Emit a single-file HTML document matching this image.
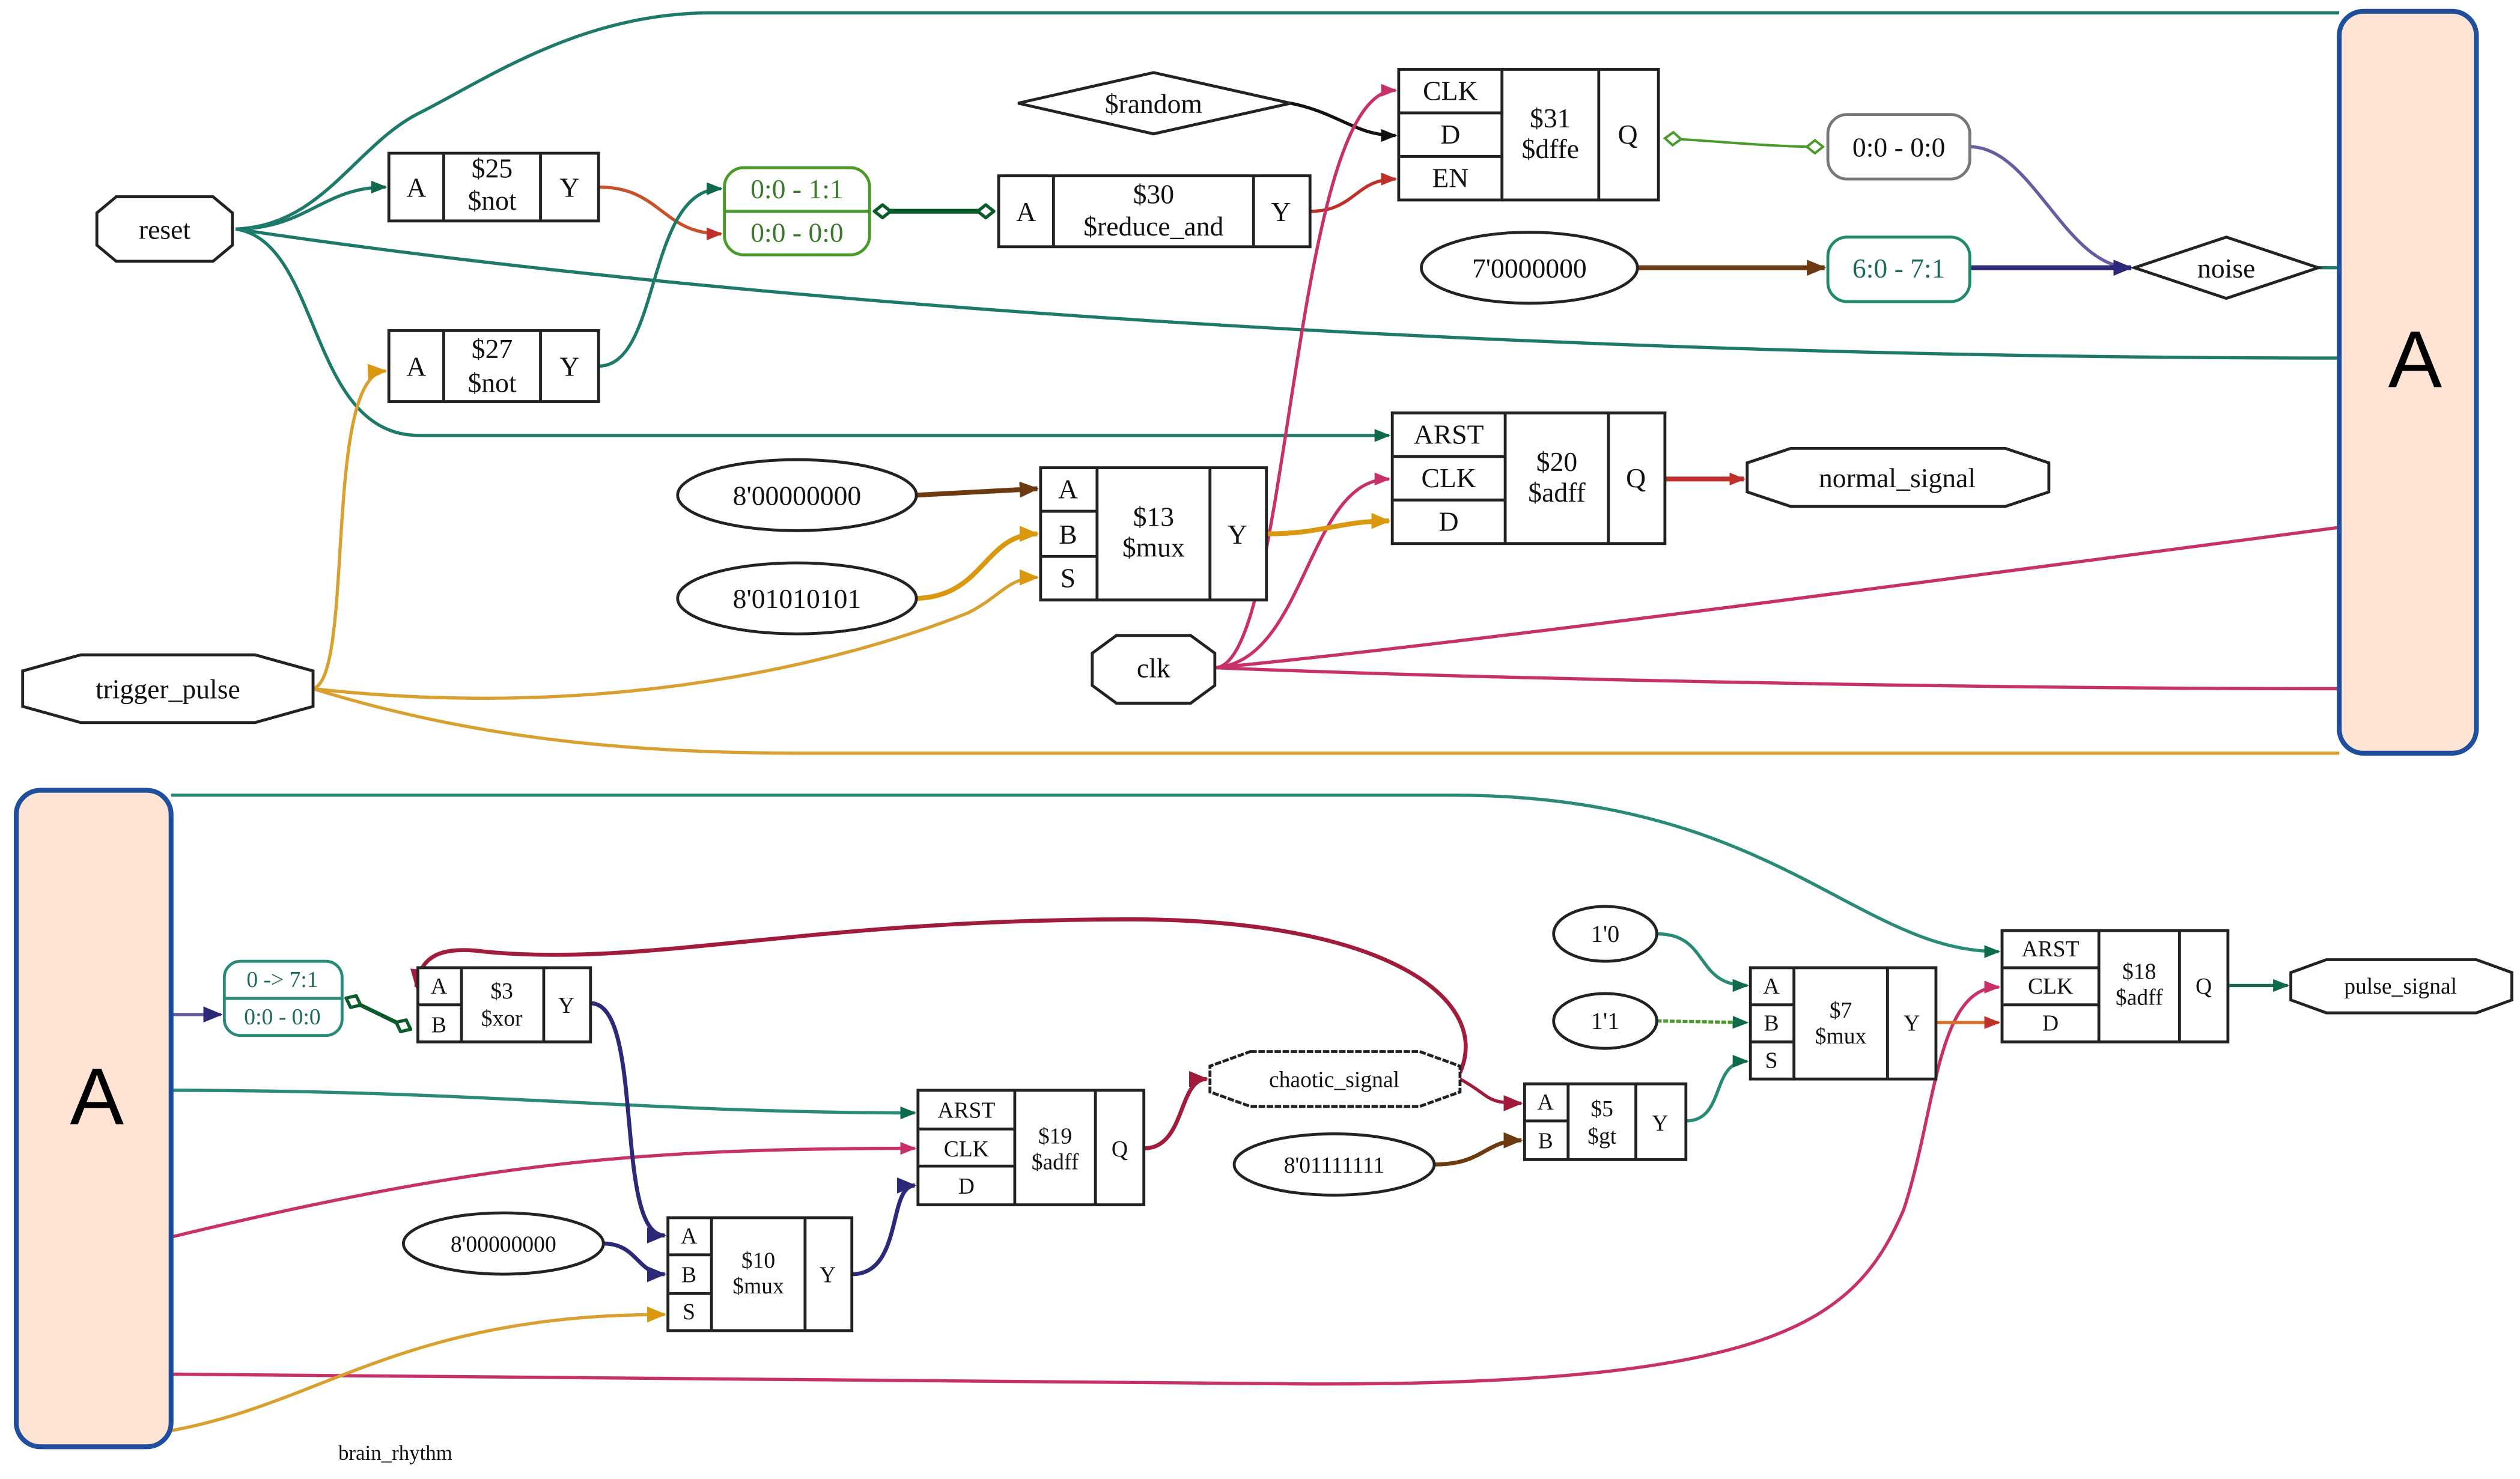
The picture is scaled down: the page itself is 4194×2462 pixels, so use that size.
<!DOCTYPE html>
<html><head><meta charset="utf-8"><style>
html,body{margin:0;padding:0;background:#fff}
svg{display:block}
svg text{font-family:"Liberation Serif","DejaVu Serif",serif}
</style></head><body>
<svg width="4194" height="2462" viewBox="0 0 1562 917" xmlns="http://www.w3.org/2000/svg" style="font-family:'Liberation Serif',serif">
<defs>
<marker id="teal" markerWidth="10" markerHeight="8" refX="9" refY="4" orient="auto" markerUnits="userSpaceOnUse"><path d="M0,0L10,4L0,8z" fill="#0e6a4a"/></marker>
<marker id="red" markerWidth="10" markerHeight="8" refX="9" refY="4" orient="auto" markerUnits="userSpaceOnUse"><path d="M0,0L10,4L0,8z" fill="#c0302a"/></marker>
<marker id="orange" markerWidth="12" markerHeight="10" refX="11" refY="5" orient="auto" markerUnits="userSpaceOnUse"><path d="M0,0L12,5L0,10z" fill="#d9980e"/></marker>
<marker id="brown" markerWidth="12" markerHeight="10" refX="11" refY="5" orient="auto" markerUnits="userSpaceOnUse"><path d="M0,0L12,5L0,10z" fill="#6b3a10"/></marker>
<marker id="navy" markerWidth="12" markerHeight="10" refX="11" refY="5" orient="auto" markerUnits="userSpaceOnUse"><path d="M0,0L12,5L0,10z" fill="#2c2a78"/></marker>
<marker id="pink" markerWidth="10" markerHeight="8" refX="9" refY="4" orient="auto" markerUnits="userSpaceOnUse"><path d="M0,0L10,4L0,8z" fill="#c8306a"/></marker>
<marker id="dred" markerWidth="12" markerHeight="10" refX="11" refY="5" orient="auto" markerUnits="userSpaceOnUse"><path d="M0,0L12,5L0,10z" fill="#a01c3a"/></marker>
<marker id="blk" markerWidth="10" markerHeight="8" refX="9" refY="4" orient="auto" markerUnits="userSpaceOnUse"><path d="M0,0L10,4L0,8z" fill="#111"/></marker>
<marker id="dia" markerWidth="12" markerHeight="10" refX="6" refY="5" orient="auto" markerUnits="userSpaceOnUse"><path d="M1,5L6,1L11,5L6,9z" fill="#fff" stroke="#0a5a2a" stroke-width="2"/></marker>
<marker id="dial" markerWidth="12" markerHeight="10" refX="6" refY="5" orient="auto" markerUnits="userSpaceOnUse"><path d="M1,5L6,1L11,5L6,9z" fill="#fff" stroke="#4a9a2a" stroke-width="1.5"/></marker>
</defs>

<g fill="none" stroke-width="2">
<path d="M146,142 C200,140 220,90 260,70 C300,50 360,8 440,8 L1450,8" stroke="#1d7a6a"/>
<path d="M146,142 C190,142 200,116 239,116" stroke="#1d7a6a" marker-end="url(#teal)"/>
<path d="M146,142 C500,195 1000,222 1450,222" stroke="#1d7a6a"/>
<path d="M146,142 C200,150 190,270 260,270 L861,270" stroke="#1d7a6a" marker-end="url(#teal)"/>
<path d="M371,116 C410,116 410,145 447,145" stroke="#c8502a" marker-end="url(#red)"/>
<path d="M371,227 C410,227 400,117 447,117" stroke="#1d7a6a" marker-end="url(#teal)"/>
<path d="M547,131 L611,131" stroke="#0a5a2a" stroke-width="3" marker-start="url(#dia)" marker-end="url(#dia)"/>
<path d="M812,131 C840,131 840,111 865,111" stroke="#c0302a" marker-end="url(#red)"/>
<path d="M800,64 C830,70 840,84 865,84" stroke="#111" marker-end="url(#blk)"/>
<path d="M753,414 C800,414 800,56 865,56" stroke="#c8306a" marker-end="url(#pink)"/>
<path d="M753,414 C810,410 810,297 861,297" stroke="#c8306a" marker-end="url(#pink)"/>
<path d="M753,414 C900,400 1200,360 1450,327" stroke="#c8306a"/>
<path d="M753,414 C900,420 1200,427 1450,427" stroke="#c8306a"/>
<path d="M785,331 C820,331 830,323 861,323" stroke="#d9980e" stroke-width="3" marker-end="url(#orange)"/>
<path d="M1037,86 C1070,88 1100,91 1125,91" stroke="#4a9a2a" stroke-width="1.5" marker-start="url(#dial)" marker-end="url(#dial)"/>
<path d="M1221,91 C1260,91 1280,166 1321,166" stroke="#6a5aa0" marker-end="url(#navy)"/>
<path d="M1015,166 L1131,166" stroke="#6b3a10" stroke-width="3" marker-end="url(#brown)"/>
<path d="M1221,166 L1321,166" stroke="#2c2a78" stroke-width="3" marker-end="url(#navy)"/>
<path d="M1437,166 L1450,166" stroke="#1d7a6a"/>
<path d="M1032,297 L1081,297" stroke="#c0302a" stroke-width="3" marker-end="url(#red)"/>
<path d="M568,307 L643,303" stroke="#6b3a10" stroke-width="3" marker-end="url(#brown)"/>
<path d="M568,371 C610,370 610,331 643,331" stroke="#d9980e" stroke-width="3" marker-end="url(#orange)"/>
<path d="M194,427 C400,450 550,400 600,380 C620,370 625,358 643,358" stroke="#d9a030" marker-end="url(#orange)"/>
<path d="M194,427 C220,420 200,232 239,230" stroke="#d9a030" marker-end="url(#orange)"/>
<path d="M194,427 C300,460 400,467 500,467 L1450,467" stroke="#d9a030"/>

<path d="M106,493 L900,493 C1100,493 1150,590 1239,590" stroke="#2a8a78" marker-end="url(#teal)"/>
<path d="M106,629 L137,629" stroke="#6a5aa0" marker-end="url(#navy)"/>
<path d="M219,621 L250,636" stroke="#0a5a2a" stroke-width="2.5" marker-start="url(#dia)" marker-end="url(#dia)"/>
<path d="M106,676 C300,676 400,690 567,690" stroke="#2a8a78" marker-end="url(#teal)"/>
<path d="M106,767 C300,720 400,712 567,712" stroke="#c8306a" marker-end="url(#pink)"/>
<path d="M106,852 L800,858 C1100,860 1150,820 1180,750 C1200,690 1200,612 1239,612" stroke="#c8306a" marker-end="url(#pink)"/>
<path d="M106,887 C200,870 250,815 412,815" stroke="#d9a030" marker-end="url(#orange)"/>
<path d="M366,622 C400,622 380,766 412,766" stroke="#2c2a78" stroke-width="2.5" marker-end="url(#navy)"/>
<path d="M374,771 C395,771 395,790 412,790" stroke="#2c2a78" stroke-width="2.5" marker-end="url(#navy)"/>
<path d="M528,790 C560,790 550,735 567,735" stroke="#2c2a78" stroke-width="2.5" marker-end="url(#navy)"/>
<path d="M709,712 C735,712 730,669 748,669" stroke="#a01c3a" stroke-width="2.5" marker-end="url(#dred)"/>
<path d="M905,665 C925,620 860,570 700,570 C500,570 400,600 300,590 C270,586 260,595 258,612" stroke="#a01c3a" stroke-width="2.5" marker-end="url(#dred)"/>
<path d="M905,669 C925,680 920,684 943,684" stroke="#a01c3a" stroke-width="2" marker-end="url(#dred)"/>
<path d="M889,722 C920,722 920,707 943,707" stroke="#6b3a10" stroke-width="2.5" marker-end="url(#brown)"/>
<path d="M1045,695 C1070,695 1060,658 1083,658" stroke="#2a8a78" marker-end="url(#teal)"/>
<path d="M1027,579 C1060,579 1050,611 1083,611" stroke="#2a8a78" marker-end="url(#teal)"/>
<path d="M1027,633 L1083,634" stroke="#4a9a2a" stroke-dasharray="3,1" marker-end="url(#teal)"/>
<path d="M1200,634 L1239,634" stroke="#d9702a" marker-end="url(#red)"/>
<path d="M1381,611 L1418,611" stroke="#1d6a4a" marker-end="url(#teal)"/>
</g>

<rect x="1450" y="7" width="85" height="460" rx="15" fill="#fde4d4" stroke="#1f4e9c" stroke-width="3"/>
<text x="1497" y="240" font-size="50" text-anchor="middle" style="font-family:'Liberation Sans',sans-serif">A</text>
<rect x="10" y="490" width="96" height="407" rx="15" fill="#fde4d4" stroke="#1f4e9c" stroke-width="3"/>
<text x="60" y="697" font-size="50" text-anchor="middle" style="font-family:'Liberation Sans',sans-serif">A</text>

<g fill="#fff" stroke="#222" stroke-width="1.8">
<polygon points="72,122 132,122 144,132 144,152 132,162 72,162 60,152 60,132"/>
<polygon points="50,406 158,406 194,416 194,438 158,448 50,448 14,438 14,416"/>
<polygon points="692,394 738,394 753,405 753,425 738,436 692,436 677,425 677,405"/>
<polygon points="1110,278 1243,278 1270,287 1270,305 1243,314 1110,314 1083,305 1083,287"/>
<polygon points="775,652 880,652 905,661 905,677 880,686 775,686 750,677 750,661" stroke-dasharray="4,1"/>
<polygon points="1442,595 1535,595 1557,603 1557,620 1535,628 1442,628 1420,620 1420,603"/>
<polygon points="631,64 715,45 800,64 715,83"/>
<polygon points="1323,166 1380,147 1437,166 1380,185"/>
<ellipse cx="948" cy="166" rx="67" ry="22"/>
<ellipse cx="494" cy="307" rx="74" ry="22"/>
<ellipse cx="494" cy="371" rx="74" ry="22"/>
<ellipse cx="312" cy="771" rx="62" ry="19"/>
<ellipse cx="827" cy="722" rx="62" ry="19"/>
<ellipse cx="995" cy="579" rx="32" ry="17"/>
<ellipse cx="995" cy="633" rx="32" ry="17"/>
<rect x="449" y="104" width="90" height="54" rx="12" stroke="#4a9a2a"/>
<line x1="449" y1="131" x2="539" y2="131" stroke="#4a9a2a"/>
<rect x="1133" y="71" width="88" height="40" rx="12" stroke="#777"/>
<rect x="1133" y="147" width="88" height="40" rx="12" stroke="#1d8a6a"/>
<rect x="139" y="596" width="73" height="46" rx="10" stroke="#2a8a78"/>
<line x1="139" y1="619" x2="212" y2="619" stroke="#2a8a78"/>
<rect x="241" y="95" width="130" height="42"/><line x1="275" y1="95" x2="275" y2="137"/><line x1="335" y1="95" x2="335" y2="137"/>
<rect x="241" y="205" width="130" height="44"/><line x1="275" y1="205" x2="275" y2="249"/><line x1="335" y1="205" x2="335" y2="249"/>
<rect x="619" y="109" width="193" height="44"/><line x1="653" y1="109" x2="653" y2="153"/><line x1="777" y1="109" x2="777" y2="153"/>
<rect x="867" y="43" width="161" height="81"/><line x1="931" y1="43" x2="931" y2="124"/><line x1="991" y1="43" x2="991" y2="124"/><line x1="867" y1="70" x2="931" y2="70"/><line x1="867" y1="97" x2="931" y2="97"/>
<rect x="863" y="256" width="169" height="81"/><line x1="933" y1="256" x2="933" y2="337"/><line x1="997" y1="256" x2="997" y2="337"/><line x1="863" y1="283" x2="933" y2="283"/><line x1="863" y1="310" x2="933" y2="310"/>
<rect x="645" y="290" width="140" height="82"/><line x1="680" y1="290" x2="680" y2="372"/><line x1="750" y1="290" x2="750" y2="372"/><line x1="645" y1="317" x2="680" y2="317"/><line x1="645" y1="345" x2="680" y2="345"/>
<rect x="259" y="600" width="107" height="46"/><line x1="286" y1="600" x2="286" y2="646"/><line x1="337" y1="600" x2="337" y2="646"/><line x1="259" y1="623" x2="286" y2="623"/>
<rect x="569" y="676" width="140" height="71"/><line x1="629" y1="676" x2="629" y2="747"/><line x1="679" y1="676" x2="679" y2="747"/><line x1="569" y1="700" x2="629" y2="700"/><line x1="569" y1="723" x2="629" y2="723"/>
<rect x="414" y="755" width="114" height="70"/><line x1="441" y1="755" x2="441" y2="825"/><line x1="499" y1="755" x2="499" y2="825"/><line x1="414" y1="778" x2="441" y2="778"/><line x1="414" y1="802" x2="441" y2="802"/>
<rect x="945" y="672" width="100" height="47"/><line x1="972" y1="672" x2="972" y2="719"/><line x1="1014" y1="672" x2="1014" y2="719"/><line x1="945" y1="695" x2="972" y2="695"/>
<rect x="1085" y="600" width="115" height="69"/><line x1="1112" y1="600" x2="1112" y2="669"/><line x1="1170" y1="600" x2="1170" y2="669"/><line x1="1085" y1="623" x2="1112" y2="623"/><line x1="1085" y1="646" x2="1112" y2="646"/>
<rect x="1241" y="577" width="140" height="69"/><line x1="1301" y1="577" x2="1301" y2="646"/><line x1="1351" y1="577" x2="1351" y2="646"/><line x1="1241" y1="600" x2="1301" y2="600"/><line x1="1241" y1="623" x2="1301" y2="623"/>
</g>

<g font-size="17" text-anchor="middle" fill="#111" style="font-family:'Liberation Serif',serif">
<text x="102" y="148">reset</text>
<text x="104" y="433">trigger_pulse</text>
<text x="715" y="420">clk</text>
<text x="1176" y="302">normal_signal</text>
<text x="827" y="674" font-size="14">chaotic_signal</text>
<text x="1488" y="616" font-size="14">pulse_signal</text>
<text x="715" y="70">$random</text>
<text x="1380" y="172">noise</text>
<text x="948" y="172">7'0000000</text>
<text x="494" y="313">8'00000000</text>
<text x="494" y="377">8'01010101</text>
<text x="312" y="776" font-size="14">8'00000000</text>
<text x="827" y="727" font-size="14">8'01111111</text>
<text x="995" y="584" font-size="15">1'0</text>
<text x="995" y="638" font-size="15">1'1</text>
<text x="494" y="123" fill="#3a7a2a">0:0 - 1:1</text><text x="494" y="150" fill="#3a7a2a">0:0 - 0:0</text>
<text x="1177" y="97">0:0 - 0:0</text>
<text x="1177" y="172" fill="#1d6a5a">6:0 - 7:1</text>
<text x="175" y="612" font-size="14" fill="#1d6a5a">0 -&gt; 7:1</text>
<text x="175" y="635" font-size="14" fill="#1d6a5a">0:0 - 0:0</text>
<text x="258" y="122">A</text><text x="305" y="110">$25</text><text x="305" y="130">$not</text><text x="353" y="122">Y</text>
<text x="258" y="233">A</text><text x="305" y="222">$27</text><text x="305" y="243">$not</text><text x="353" y="233">Y</text>
<text x="636" y="137">A</text><text x="715" y="126">$30</text><text x="715" y="146">$reduce_and</text><text x="794" y="137">Y</text>
<text x="899" y="62">CLK</text><text x="899" y="89">D</text><text x="899" y="116">EN</text><text x="961" y="79">$31</text><text x="961" y="98">$dffe</text><text x="1009" y="89">Q</text>
<text x="898" y="275">ARST</text><text x="898" y="302">CLK</text><text x="898" y="329">D</text><text x="965" y="292">$20</text><text x="965" y="311">$adff</text><text x="1014" y="302">Q</text>
<text x="662" y="309">A</text><text x="662" y="337">B</text><text x="662" y="364">S</text><text x="715" y="326">$13</text><text x="715" y="345">$mux</text><text x="767" y="337">Y</text>
</g>
<g font-size="14" text-anchor="middle" fill="#111" style="font-family:'Liberation Serif',serif">
<text x="272" y="616">A</text><text x="272" y="640">B</text><text x="311" y="619">$3</text><text x="311" y="636">$xor</text><text x="351" y="628">Y</text>
<text x="599" y="693">ARST</text><text x="599" y="717">CLK</text><text x="599" y="740">D</text><text x="654" y="709">$19</text><text x="654" y="725">$adff</text><text x="694" y="717">Q</text>
<text x="427" y="771">A</text><text x="427" y="795">B</text><text x="427" y="818">S</text><text x="470" y="786">$10</text><text x="470" y="802">$mux</text><text x="513" y="795">Y</text>
<text x="958" y="688">A</text><text x="958" y="712">B</text><text x="993" y="692">$5</text><text x="993" y="709">$gt</text><text x="1029" y="701">Y</text>
<text x="1098" y="616">A</text><text x="1098" y="639">B</text><text x="1098" y="662">S</text><text x="1141" y="631">$7</text><text x="1141" y="647">$mux</text><text x="1185" y="639">Y</text>
<text x="1271" y="593">ARST</text><text x="1271" y="616">CLK</text><text x="1271" y="639">D</text><text x="1326" y="607">$18</text><text x="1326" y="623">$adff</text><text x="1366" y="616">Q</text>
<text x="245" y="905" font-size="13">brain_rhythm</text>
</g>
</svg>
</body></html>
